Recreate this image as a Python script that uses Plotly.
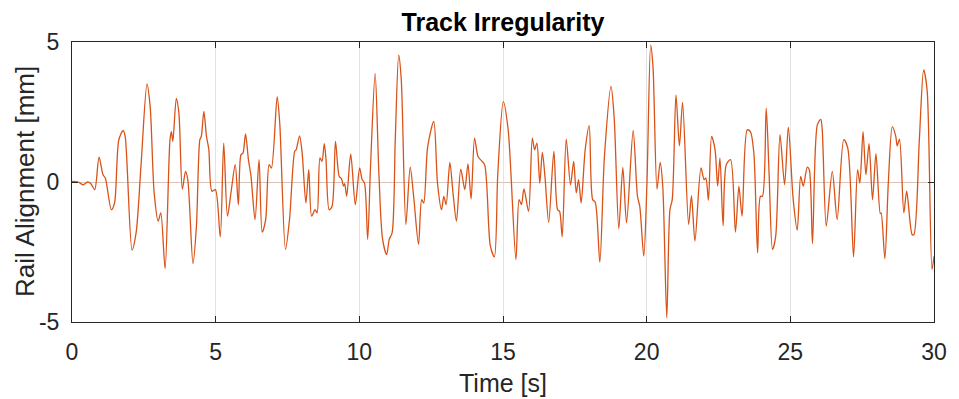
import plotly.graph_objects as go

# Time [s]
t_s = [0.00, 0.22, 0.39, 0.54, 0.65, 0.79, 0.94, 1.08, 1.16, 1.37, 1.48, 1.63, 1.78, 1.85,
       2.09, 2.23, 2.40, 2.61, 2.72, 2.86, 3.00, 3.09, 3.24, 3.41, 3.46, 3.51, 3.63, 3.72,
       3.84, 3.95, 4.03, 4.21, 4.33, 4.45, 4.50, 4.59, 4.68, 4.76, 4.87, 4.99, 5.16, 5.28,
       5.41, 5.54, 5.68, 5.79, 5.88, 5.95, 6.04, 6.14, 6.23, 6.37, 6.51, 6.62, 6.74, 6.86,
       6.94, 7.14, 7.23, 7.43, 7.57, 7.75, 7.80, 7.92, 8.01, 8.14, 8.24, 8.34, 8.46, 8.53,
       8.63, 8.70, 8.78, 8.84, 8.95, 9.05, 9.17, 9.30, 9.38, 9.45, 9.49, 9.56, 9.70, 9.86,
       10.01, 10.10, 10.18, 10.29, 10.39, 10.55, 10.68, 10.81, 10.95, 11.04, 11.14, 11.25,
       11.37, 11.46, 11.62, 11.77, 11.89, 12.06, 12.17, 12.24, 12.38, 12.59, 12.72, 12.86,
       12.94, 13.02, 13.15, 13.26, 13.38, 13.53, 13.67, 13.78, 13.89, 14.01, 14.13, 14.24,
       14.36, 14.56, 14.70, 14.82, 15.01, 15.18, 15.45, 15.56, 15.64, 15.73, 15.89, 16.02,
       16.10, 16.18, 16.28, 16.37, 16.46, 16.59, 16.77, 16.90, 16.97, 17.06, 17.20, 17.35,
       17.46, 17.55, 17.63, 17.72, 17.86, 18.00, 18.12, 18.21, 18.37, 18.53, 18.76, 18.87,
       19.03, 19.17, 19.30, 19.53, 19.68, 19.76, 19.90, 20.01, 20.14, 20.22, 20.36, 20.47,
       20.56, 20.70, 20.81, 20.89, 21.02, 21.14, 21.25, 21.46, 21.56, 21.68, 21.89, 22.00,
       22.06, 22.15, 22.26, 22.38, 22.47, 22.55, 22.66, 22.77, 22.92, 23.09, 23.21, 23.32,
       23.50, 23.61, 23.73, 23.86, 23.96, 24.03, 24.16, 24.26, 24.38, 24.49, 24.64, 24.80,
       24.93, 25.10, 25.24, 25.36, 25.45, 25.59, 25.66, 25.77, 25.94, 26.06, 26.11, 26.25,
       26.46, 26.63, 26.86, 27.00, 27.20, 27.34, 27.42, 27.53, 27.63, 27.74, 27.86, 27.98,
       28.13, 28.16, 28.29, 28.41, 28.55, 28.67, 28.72, 28.80, 28.95, 29.05, 29.24, 29.30,
       29.49, 29.64, 29.76, 29.93, 30.00]

# Rail alignment [mm]
align_mm = [0.02, 0.00, -0.10, 0.00, -0.05, -0.27, 0.89, 0.26, 0.14, -0.99, -0.75, 1.51, 1.84, 1.63,
            -2.43, -1.82, 0.56, 3.50, 2.70, -0.39, -1.40, -1.10, -3.10, 1.51, 1.80, 1.45, 2.99, 2.46,
            -0.25, 0.38, 0.08, -2.91, -1.58, 1.51, 1.63, 2.52, 1.63, 1.18, -0.33, -0.27, -1.96, 1.39,
            -1.22, -0.33, 0.62, -0.81, 0.97, 1.03, 1.72, 0.80, 0.20, -1.34, 0.80, -1.79, -1.34, 0.62,
            0.50, 3.05, 2.10, -2.41, -1.34, 1.09, 1.15, 1.65, 1.03, -0.75, 0.44, -1.22, -0.99, -1.10,
            0.86, 0.74, 1.37, 0.80, -0.99, -0.87, 1.45, 0.20, 0.11, -0.15, -0.06, -0.51, 1.00, -0.81,
            0.50, 0.08, -0.04, -2.05, 0.56, 3.88, 0.32, -2.05, -2.59, -2.05, -1.82, 1.51,
            4.54, 3.65, -1.52, 0.53, -0.51, -2.23, -0.63, -0.75, 1.27, 2.16, -0.04, -0.99,
            -0.51, -0.81, 0.70, -0.39, -1.40, 0.46, -0.27, 0.65, -0.61, 1.57, 0.91, 0.77,
            0.62, -2.29, -2.67, 0.32, 2.87, 1.86, -2.77, -0.63, -0.81, -0.25, -1.05, 1.57,
            1.15, 1.39, -0.04, 1.06, 0.20, -1.44, 1.09, -0.99, -1.05, -1.96, 1.53, -0.10,
            0.74, -0.39, 0.08, -0.75, 1.15, 2.01, -0.63, -0.72, -2.86, 0.91, 3.41, 2.28,
            -1.67, 0.52, -1.46, 1.84, -0.51, -0.87, -2.65, -0.04, 4.89, 4.12, -0.25, 0.70,
            -0.15, -4.85, -0.99, -0.63, 3.11, 1.29, 2.84, -1.52, -0.49, -2.11, 0.50, 0.08,
            0.14, -0.65, 1.63, 1.15, -0.15, 0.86, -1.56, 0.62, 0.80, -1.79, -0.15, -1.22,
            1.86, 1.80, 1.03, -2.53, -0.51, -0.51, 2.64, 0.32, -2.41, -1.94, 1.69, -0.10,
            1.96, -0.63, -1.72, 0.20, -0.15, 0.53, 0.44, -2.20, 2.04, 2.24, 1.86, -1.58,
            0.38, -1.34, 1.51, 1.21, -2.67, 0.44, -0.04, 1.80, 0.26, 1.37, -0.63, 1.01,
            -1.13, -1.10, -2.74, -0.04, 1.98, 1.63, 1.29, 1.53, -1.10, -0.33, -1.88, -1.88,
            1.51, 4.00, 3.29, -3.12, -2.65]

x_ticks = [0, 5, 10, 15, 20, 25, 30]
x_tick_text = ["0", "5", "10", "15", "20", "25", "30"]
y_ticks = [-5, 0, 5]
y_tick_text = ["-5", "0", "5"]

FONT = "Liberation Sans, Arial, sans-serif"
TXT = "#262626"

fig = go.Figure()
fig.add_trace(go.Scatter(
    x=t_s, y=align_mm, mode="lines",
    line=dict(color="#D95319", width=1.3, shape="spline", smoothing=0.8),
    showlegend=False, hoverinfo="x+y"))

fig.update_layout(
    width=959, height=399,
    margin=dict(l=72, r=15, t=42, b=77),
    paper_bgcolor="white", plot_bgcolor="white",
    font=dict(family=FONT, size=23, color=TXT),
    title=dict(text="<b>Track Irregularity</b>", x=0.5, xref="paper", xanchor="center",
               y=1 - 22 / 399, yref="container", yanchor="middle",
               font=dict(family=FONT, size=25, color="#000000")),
    xaxis=dict(range=[0, 30], tickvals=x_ticks, ticktext=x_tick_text,
               ticks="inside", ticklen=6, tickcolor=TXT,
               showline=True, linecolor=TXT, linewidth=1, mirror="ticks",
               showgrid=True, gridcolor="#e3e3e3", gridwidth=1, zeroline=False,
               ticklabelstandoff=9, tickfont=dict(size=23, color=TXT)),
    yaxis=dict(range=[-5, 5], tickvals=y_ticks, ticktext=y_tick_text,
               ticks="inside", ticklen=6, tickcolor=TXT,
               showline=True, linecolor=TXT, linewidth=1, mirror="ticks",
               showgrid=False, zeroline=True, zerolinecolor="#dcc3b8", zerolinewidth=1,
               ticklabelstandoff=7, tickfont=dict(size=23, color=TXT)),
    annotations=[
        dict(text="Time [s]", xref="paper", yref="paper", x=0.5, y=0,
             xanchor="center", yanchor="middle", yshift=-61, showarrow=False,
             font=dict(size=25, color=TXT)),
        dict(text="Rail Alignment [mm]", xref="paper", yref="paper", x=0, y=0.5,
             xanchor="center", yanchor="middle", xshift=-47, textangle=-90, showarrow=False,
             font=dict(size=26, color=TXT)),
    ],
)

fig.write_html("out.html")
